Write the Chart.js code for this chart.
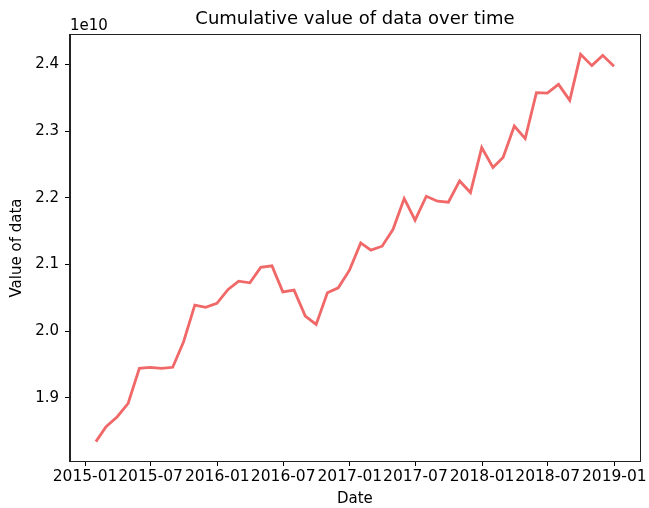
<!DOCTYPE html>
<html>
<head>
<meta charset="utf-8">
<script src="https://cdn.jsdelivr.net/npm/chart.js@4/dist/chart.umd.min.js"></script>
<style>
  html, body { margin: 0; padding: 0; background: #fff; }
  #grafico { display: block; }
</style>
</head>
<body>
<canvas id="grafico" width="649" height="508"></canvas>
<script>
// Datas (fim de mês)
const datas = [
  "2015-01-31","2015-02-28","2015-03-31","2015-04-30","2015-05-31","2015-06-30",
  "2015-07-31","2015-08-31","2015-09-30","2015-10-31","2015-11-30","2015-12-31",
  "2016-01-31","2016-02-29","2016-03-31","2016-04-30","2016-05-31","2016-06-30",
  "2016-07-31","2016-08-31","2016-09-30","2016-10-31","2016-11-30","2016-12-31",
  "2017-01-31","2017-02-28","2017-03-31","2017-04-30","2017-05-31","2017-06-30",
  "2017-07-31","2017-08-31","2017-09-30","2017-10-31","2017-11-30","2017-12-31",
  "2018-01-31","2018-02-28","2018-03-31","2018-04-30","2018-05-31","2018-06-30",
  "2018-07-31","2018-08-31","2018-09-30","2018-10-31","2018-11-30","2018-12-31"
];

// Valor acumulado
const valores = [
  1.8346e10, 1.8570e10, 1.8720e10, 1.8921e10, 1.9445e10, 1.9460e10,
  1.9445e10, 1.9460e10, 1.9843e10, 2.0392e10, 2.0358e10, 2.0418e10,
  2.0627e10, 2.0751e10, 2.0726e10, 2.0957e10, 2.0980e10, 2.0591e10,
  2.0617e10, 2.0228e10, 2.0103e10, 2.0576e10, 2.0651e10, 2.0916e10,
  2.1325e10, 2.1216e10, 2.1275e10, 2.1525e10, 2.1990e10, 2.1665e10,
  2.2024e10, 2.1949e10, 2.1934e10, 2.2253e10, 2.2079e10, 2.2753e10,
  2.2454e10, 2.2603e10, 2.3076e10, 2.2888e10, 2.3576e10, 2.3570e10,
  2.3701e10, 2.3461e10, 2.4150e10, 2.3981e10, 2.4135e10, 2.3970e10
];

const rotulosX = ["2015-01","2015-07","2016-01","2016-07","2017-01","2017-07","2018-01","2018-07","2019-01"];
const rotulosY = [1.9e10, 2.0e10, 2.1e10, 2.2e10, 2.3e10, 2.4e10];

const FONTE = "'DejaVu Sans', sans-serif";
const DIA = 86400000;
const emDias = s => Date.parse(s) / DIA;

const pontos = datas.map((d, i) => ({x: emDias(d), y: valores[i]}));

// margens de 5% como no matplotlib
function limites(arr) {
  const mn = Math.min(...arr), mx = Math.max(...arr), m = (mx - mn) * 0.05;
  return [mn - m, mx + m];
}
const [xMin, xMax] = limites(pontos.map(p => p.x));
const [yMin, yMax] = limites(valores);

// Título, "1e10" e moldura
const molduraPlugin = {
  id: 'moldura',
  afterDraw(chart) {
    const {ctx, chartArea: a} = chart;
    ctx.save();
    ctx.strokeStyle = '#222';
    ctx.lineWidth = 1;
    ctx.strokeRect(Math.round(a.left) - 0.5, Math.round(a.top) - 0.5, Math.round(a.right - a.left) + 1, Math.round(a.bottom - a.top) + 1);
    ctx.fillStyle = '#000';
    ctx.font = `18px ${FONTE}`;
    ctx.textAlign = 'center';
    ctx.textBaseline = 'alphabetic';
    ctx.fillText('Cumulative value of data over time', (a.left + a.right) / 2, 24);
    ctx.font = `15px ${FONTE}`;
    ctx.textAlign = 'left';
    ctx.fillText('1e10', a.left, 30);
    ctx.restore();
  }
};

const ctx = document.getElementById('grafico').getContext('2d');
new Chart(ctx, {
  type: 'line',
  data: {
    datasets: [{
      data: pontos,
      borderColor: '#f06868',
      borderWidth: 2.8,
      pointRadius: 0,
      tension: 0,
      fill: false
    }]
  },
  options: {
    responsive: false,
    animation: false,
    devicePixelRatio: 1,
    layout: { padding: { top: 35, right: 7, left: 0, bottom: 0 } },
    plugins: { legend: { display: false }, tooltip: { enabled: false } },
    scales: {
      x: {
        type: 'linear',
        min: xMin, max: xMax,
        afterBuildTicks: s => { s.ticks = rotulosX.map(r => ({value: emDias(r + '-01')})); },
        afterFit: s => { s.height = 47; },
        grid: { drawOnChartArea: false, drawTicks: true, tickLength: 5, color: '#000' },
        border: { display: true, color: '#222' },
        ticks: {
          color: '#000', font: { family: FONTE, size: 15.5 }, padding: 2,
          maxRotation: 0, autoSkip: false,
          callback: (v, i) => rotulosX[i]
        },
        title: { display: true, text: 'Date', color: '#000', font: { family: FONTE, size: 15 }, padding: { top: 0, bottom: 0 } }
      },
      y: {
        type: 'linear',
        min: yMin, max: yMax,
        afterBuildTicks: s => { s.ticks = rotulosY.map(v => ({value: v})); },
        afterFit: s => { s.width = 70; },
        grid: { drawOnChartArea: false, drawTicks: true, tickLength: 5, color: '#000' },
        border: { display: true, color: '#222' },
        ticks: {
          color: '#000', font: { family: FONTE, size: 15 }, padding: 6,
          callback: v => (v / 1e10).toFixed(1)
        },
        title: { display: true, text: 'Value of data', color: '#000', font: { family: FONTE, size: 15 }, padding: { top: 8, bottom: 0 } }
      }
    }
  },
  plugins: [molduraPlugin]
});
</script>
</body>
</html>
